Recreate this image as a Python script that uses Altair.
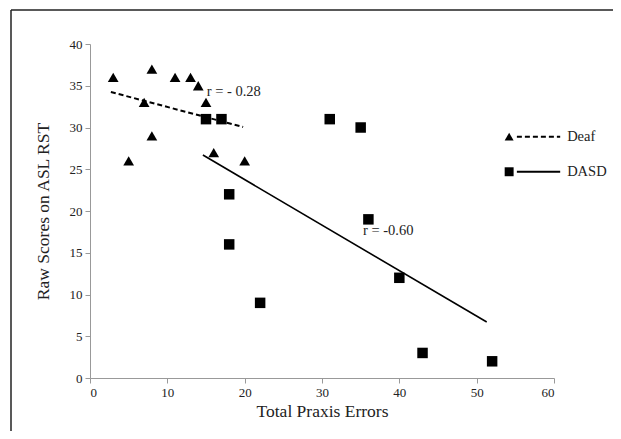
import altair as alt
import pandas as pd

# Data
deaf_x = [3, 5, 7, 8, 8, 11, 13, 14, 15, 16, 20]
deaf_y = [36, 26, 33, 37, 29, 36, 36, 35, 33, 27, 26]
dasd_x = [15, 17, 18, 18, 22, 31, 35, 36, 40, 43, 52]
dasd_y = [31, 31, 22, 16, 9, 31, 30, 19, 12, 3, 2]
deaf_fit_x = [2.7, 19.8]
deaf_fit_y = [34.25, 30.06]
dasd_fit_x = [14.6, 51.3]
dasd_fit_y = [26.7, 6.7]
ann_text = ["r = - 0.28", "r = -0.60"]
ann_x = [15.1, 35.3]
ann_y = [34.25, 17.6]
legend_labels = ["Deaf", "DASD"]
legend_y = [28.9, 24.7]
legend_sym_x = 54.2
legend_line_x = [55.2, 60.8]
legend_text_x = 61.7

FONT = "Liberation Serif"
xs = alt.Scale(domain=[0, 60], nice=False)
ys = alt.Scale(domain=[0, 40], nice=False)

deaf = pd.DataFrame({"x": deaf_x, "y": deaf_y})
dasd = pd.DataFrame({"x": dasd_x, "y": dasd_y})
deaf_fit = pd.DataFrame({"x": deaf_fit_x, "y": deaf_fit_y})
dasd_fit = pd.DataFrame({"x": dasd_fit_x, "y": dasd_fit_y})
ann = pd.DataFrame({"t": ann_text, "x": ann_x, "y": ann_y})
leg = pd.DataFrame({"label": legend_labels, "y": legend_y,
                    "sx": [legend_sym_x] * 2,
                    "x1": [legend_line_x[0]] * 2, "x2": [legend_line_x[1]] * 2,
                    "tx": [legend_text_x] * 2})

base_x = alt.X("x:Q", scale=xs, title="Total Praxis Errors",
               axis=alt.Axis(values=[0, 10, 20, 30, 40, 50, 60], titlePadding=3))
base_y = alt.Y("y:Q", scale=ys, title="Raw Scores on ASL RST",
               axis=alt.Axis(values=[0, 5, 10, 15, 20, 25, 30, 35, 40], titlePadding=17))

tri = alt.Chart(deaf).mark_point(shape="triangle-up", filled=True, color="black",
                                 opacity=1, size=115).encode(x=base_x, y=base_y)
sq = alt.Chart(dasd).mark_point(shape="square", filled=True, color="black",
                                opacity=1, size=110).encode(x="x:Q", y="y:Q")
l1 = alt.Chart(deaf_fit).mark_line(color="black", strokeWidth=2,
                                   strokeDash=[5, 3]).encode(x="x:Q", y="y:Q")
l2 = alt.Chart(dasd_fit).mark_line(color="black", strokeWidth=1.6).encode(x="x:Q", y="y:Q")
txt = alt.Chart(ann).mark_text(align="left", baseline="middle", font=FONT,
                               fontSize=14.5, color="#222").encode(x="x:Q", y="y:Q", text="t:N")

leg_tri = alt.Chart(leg[leg.label == "Deaf"]).mark_point(
    shape="triangle-up", filled=True, color="black", opacity=1, size=80
).encode(x="sx:Q", y="y:Q")
leg_sq = alt.Chart(leg[leg.label == "DASD"]).mark_point(
    shape="square", filled=True, color="black", opacity=1, size=80
).encode(x="sx:Q", y="y:Q")
leg_dash = alt.Chart(leg[leg.label == "Deaf"]).mark_rule(
    color="black", strokeWidth=2, strokeDash=[5, 3]
).encode(x="x1:Q", x2="x2:Q", y="y:Q")
leg_solid = alt.Chart(leg[leg.label == "DASD"]).mark_rule(
    color="black", strokeWidth=2
).encode(x="x1:Q", x2="x2:Q", y="y:Q")
leg_text = alt.Chart(leg).mark_text(align="left", baseline="middle", font=FONT,
                                    fontSize=14.5, color="#222").encode(
    x="tx:Q", y="y:Q", text="label:N")

frame_df = pd.DataFrame({"k": [0]})
frame_left = alt.Chart(frame_df).mark_rule(color="#222", strokeWidth=1.5).encode(
    x=alt.value(-79), y=alt.value(-34), y2=alt.value(400))
frame_top = alt.Chart(frame_df).mark_rule(color="#222", strokeWidth=1.5).encode(
    x=alt.value(-79), x2=alt.value(530), y=alt.value(-34))

chart = alt.layer(
    frame_left, frame_top, l1, l2, tri, sq, txt,
    leg_tri, leg_sq, leg_dash, leg_solid, leg_text
).properties(
    width=464, height=334,
    autosize=alt.AutoSizeParams(type="none"),
    padding={"left": 82, "top": 36, "right": 59, "bottom": 53},
    background="white",
).configure_view(stroke=None).configure_axis(
    grid=False, labelFont=FONT, labelFontSize=13, labelColor="#222",
    titleFont=FONT, titleFontSize=17.5, titleFontWeight="normal", titleColor="#222",
    domainColor="#999", tickColor="#999", tickSize=5, labelPadding=3,
)

chart.save("out.html", embed_options={"renderer": "svg", "actions": False})
